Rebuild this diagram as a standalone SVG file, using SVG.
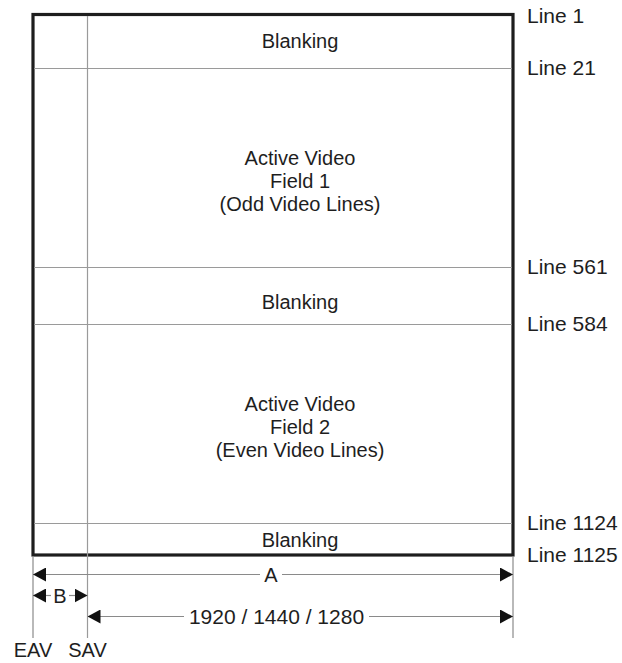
<svg xmlns="http://www.w3.org/2000/svg" width="622" height="663" viewBox="0 0 622 663">
<defs>
<style>
.t{font-family:"Liberation Sans",Arial,Helvetica,sans-serif;font-size:20px;fill:#1e1e1e}
.n{font-size:21px}
.m{text-anchor:middle}
.thin{stroke:#9a9a9a;stroke-width:1.2;fill:none}
.frame{stroke:#1e1e1e;stroke-width:3.2;fill:none}
.dim{stroke:#8a8a8a;stroke-width:1.2;fill:none}
</style>
<marker id="ah" viewBox="0 0 13 14" refX="13" refY="7" markerWidth="13" markerHeight="14" markerUnits="userSpaceOnUse" orient="auto-start-reverse">
<path d="M0,0 L13,7 L0,14 Z" fill="#111"/>
</marker>
</defs>
<rect width="622" height="663" fill="#fff"/>
<g id="frame">
<rect class="frame" x="33" y="14.5" width="480" height="540.5"/>
</g>
<g id="dividers">
<line class="thin" x1="34" y1="68.5" x2="512" y2="68.5"/>
<line class="thin" x1="34" y1="267.5" x2="512" y2="267.5"/>
<line class="thin" x1="34" y1="324.5" x2="512" y2="324.5"/>
<line class="thin" x1="34" y1="523.5" x2="512" y2="523.5"/>
<line class="thin" x1="87.5" y1="16" x2="87.5" y2="638"/>
</g>
<g id="blanking1"><text class="t m" x="300" y="48">Blanking</text></g>
<g id="field1">
<text class="t m" x="300" y="165">Active Video</text>
<text class="t m" x="300" y="188">Field 1</text>
<text class="t m" x="300" y="211">(Odd Video Lines)</text>
</g>
<g id="blanking2"><text class="t m" x="300" y="309">Blanking</text></g>
<g id="field2">
<text class="t m" x="300" y="411">Active Video</text>
<text class="t m" x="300" y="434">Field 2</text>
<text class="t m" x="300" y="457">(Even Video Lines)</text>
</g>
<g id="blanking3"><text class="t m" x="300" y="547">Blanking</text></g>
<g id="line-labels">
<text class="t n" x="527" y="22.5">Line 1</text>
<text class="t n" x="527" y="75">Line 21</text>
<text class="t n" x="527" y="274">Line 561</text>
<text class="t n" x="527" y="331">Line 584</text>
<text class="t n" x="527" y="530">Line 1124</text>
<text class="t n" x="527" y="562">Line 1125</text>
</g>
<g id="connectors">
<line class="dim" x1="33" y1="556" x2="33" y2="638"/>
<line class="dim" x1="513" y1="556" x2="513" y2="638"/>
<line class="dim" x1="260" y1="574.5" x2="33" y2="574.5" marker-end="url(#ah)"/>
<line class="dim" x1="282" y1="574.5" x2="513" y2="574.5" marker-end="url(#ah)"/>
<line class="dim" x1="51" y1="595.5" x2="33" y2="595.5" marker-end="url(#ah)"/>
<line class="dim" x1="69" y1="595.5" x2="87.5" y2="595.5" marker-end="url(#ah)"/>
<line class="dim" x1="184" y1="616.5" x2="87.5" y2="616.5" marker-end="url(#ah)"/>
<line class="dim" x1="369" y1="616.5" x2="513" y2="616.5" marker-end="url(#ah)"/>
</g>
<g id="dim-labels">
<text class="t m" x="271" y="582">A</text>
<text class="t m" x="60" y="603">B</text>
<text class="t m n" x="276.5" y="624">1920 / 1440 / 1280</text>
<text class="t m" x="33" y="657">EAV</text>
<text class="t m" x="87.5" y="657">SAV</text>
</g>
</svg>
